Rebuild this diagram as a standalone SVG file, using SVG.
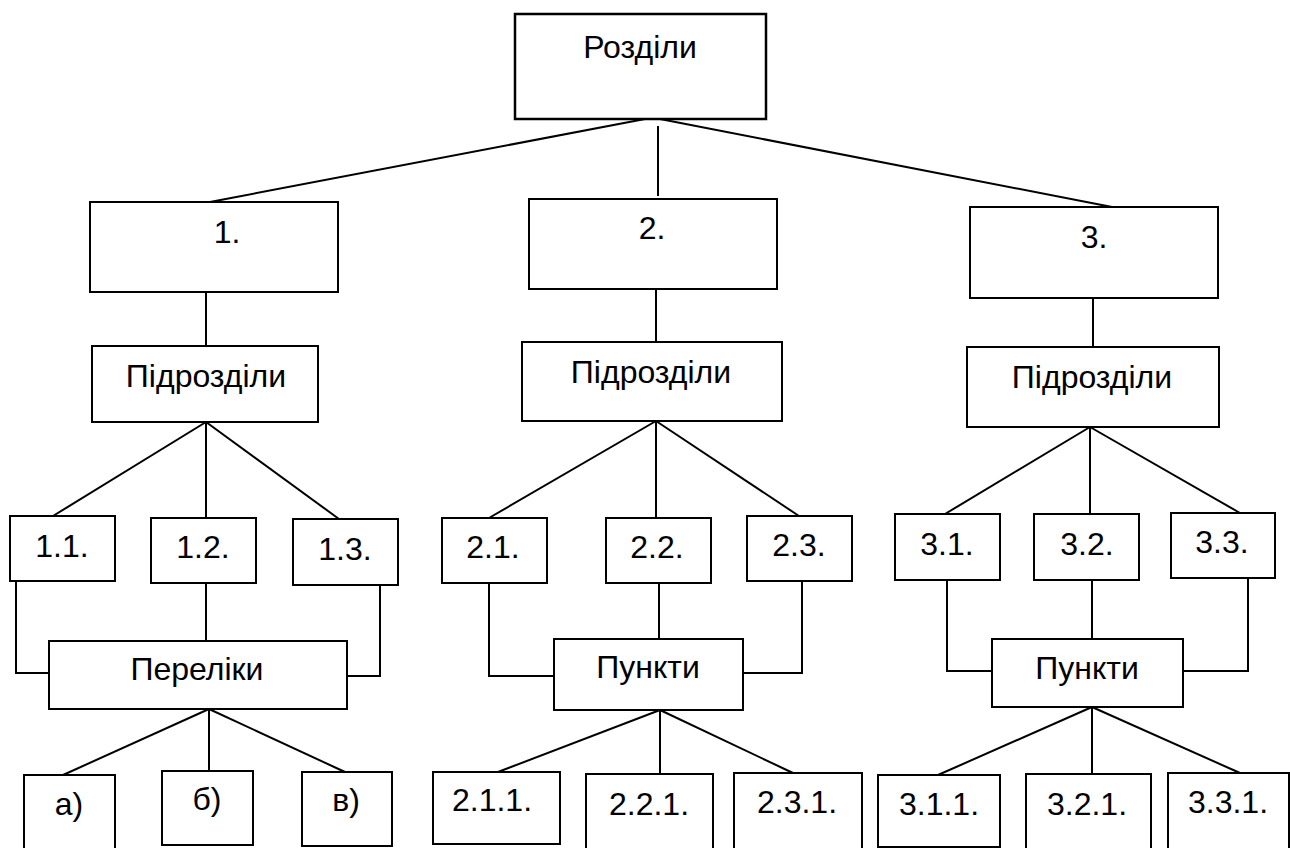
<svg xmlns="http://www.w3.org/2000/svg" width="1290" height="848" viewBox="0 0 1290 848">
<style>
.box{fill:#fff;stroke:#000;stroke-width:2}
.top{stroke-width:2.5}
.lbl{font-family:"Liberation Sans",Arial,sans-serif;font-size:32px;fill:#000;text-anchor:middle}
.conn line,.conn polyline{stroke:#000;stroke-width:2;fill:none}
</style>
<rect width="1290" height="848" fill="#fff"/>
<g class="conn" id="connectors">
<line x1="645" y1="119" x2="210" y2="202"/>
<line x1="658" y1="126" x2="658" y2="196"/>
<line x1="660" y1="119" x2="1112" y2="207"/>
<line x1="206" y1="292" x2="206" y2="346"/>
<line x1="656" y1="289" x2="656" y2="342"/>
<line x1="1093" y1="298" x2="1093" y2="347"/>
<line x1="206" y1="422" x2="53" y2="516"/>
<line x1="206" y1="422" x2="206" y2="518"/>
<line x1="206" y1="422" x2="339" y2="519"/>
<line x1="656" y1="421" x2="489" y2="518"/>
<line x1="656" y1="421" x2="656" y2="518"/>
<line x1="656" y1="421" x2="799" y2="516"/>
<line x1="1090" y1="427" x2="945" y2="514"/>
<line x1="1090" y1="427" x2="1090" y2="514"/>
<line x1="1090" y1="427" x2="1240" y2="513"/>
<polyline points="16,581 16,673 49,673"/>
<line x1="206" y1="583" x2="206" y2="641"/>
<polyline points="380,585 380,676 347,676"/>
<polyline points="489,583 489,676 554,676"/>
<line x1="659" y1="583" x2="659" y2="639"/>
<polyline points="802,581 802,673 743,673"/>
<polyline points="947,580 947,671 992,671"/>
<line x1="1092" y1="580" x2="1092" y2="642"/>
<polyline points="1248,578 1248,671 1183,671"/>
<line x1="209" y1="709" x2="63" y2="775"/>
<line x1="209" y1="709" x2="209" y2="771"/>
<line x1="209" y1="709" x2="345" y2="772"/>
<line x1="660" y1="710" x2="498" y2="772"/>
<line x1="660" y1="710" x2="660" y2="774"/>
<line x1="660" y1="710" x2="793" y2="773"/>
<line x1="1092" y1="707" x2="938" y2="775"/>
<line x1="1092" y1="707" x2="1092" y2="774"/>
<line x1="1092" y1="707" x2="1240" y2="773"/>
</g>
<g id="n-rozdily"><rect class="box top" x="515" y="14" width="251" height="105"/><text class="lbl" x="640" y="58">Розділи</text></g>
<g id="n-1"><rect class="box" x="90" y="202" width="248" height="90"/><text class="lbl" x="227" y="243">1.</text></g>
<g id="n-2"><rect class="box" x="529" y="199" width="248" height="90"/><text class="lbl" x="652" y="239">2.</text></g>
<g id="n-3"><rect class="box" x="970" y="207" width="248" height="91"/><text class="lbl" x="1094" y="248">3.</text></g>
<g id="n-pidr1"><rect class="box" x="92" y="346" width="226" height="76"/><text class="lbl" x="206" y="387">Підрозділи</text></g>
<g id="n-pidr2"><rect class="box" x="522" y="342" width="260" height="79"/><text class="lbl" x="651" y="383">Підрозділи</text></g>
<g id="n-pidr3"><rect class="box" x="967" y="347" width="252" height="80"/><text class="lbl" x="1092" y="388">Підрозділи</text></g>
<g id="n-1-1"><rect class="box" x="10" y="516" width="105" height="65"/><text class="lbl" x="62" y="557">1.1.</text></g>
<g id="n-1-2"><rect class="box" x="151" y="518" width="105" height="65"/><text class="lbl" x="203" y="558">1.2.</text></g>
<g id="n-1-3"><rect class="box" x="293" y="519" width="105" height="66"/><text class="lbl" x="345" y="560">1.3.</text></g>
<g id="n-2-1"><rect class="box" x="442" y="518" width="105" height="65"/><text class="lbl" x="493" y="558">2.1.</text></g>
<g id="n-2-2"><rect class="box" x="606" y="518" width="105" height="65"/><text class="lbl" x="657" y="558">2.2.</text></g>
<g id="n-2-3"><rect class="box" x="747" y="516" width="105" height="65"/><text class="lbl" x="799" y="556">2.3.</text></g>
<g id="n-3-1"><rect class="box" x="895" y="514" width="105" height="66"/><text class="lbl" x="947" y="555">3.1.</text></g>
<g id="n-3-2"><rect class="box" x="1034" y="514" width="105" height="66"/><text class="lbl" x="1087" y="555">3.2.</text></g>
<g id="n-3-3"><rect class="box" x="1171" y="513" width="104" height="65"/><text class="lbl" x="1222" y="553">3.3.</text></g>
<g id="n-pereliky"><rect class="box" x="49" y="641" width="298" height="68"/><text class="lbl" x="197" y="680">Переліки</text></g>
<g id="n-punkty2"><rect class="box" x="554" y="639" width="189" height="71"/><text class="lbl" x="648" y="678">Пункти</text></g>
<g id="n-punkty3"><rect class="box" x="992" y="639" width="191" height="68"/><text class="lbl" x="1087" y="679">Пункти</text></g>
<g id="n-a"><rect class="box" x="24" y="775" width="91" height="80"/><text class="lbl" x="69" y="815">а)</text></g>
<g id="n-b"><rect class="box" x="162" y="771" width="91" height="74"/><text class="lbl" x="207" y="810">б)</text></g>
<g id="n-v"><rect class="box" x="302" y="772" width="90" height="74"/><text class="lbl" x="346" y="811">в)</text></g>
<g id="n-2-1-1"><rect class="box" x="433" y="772" width="127" height="72"/><text class="lbl" x="492" y="811">2.1.1.</text></g>
<g id="n-2-2-1"><rect class="box" x="586" y="774" width="127" height="80"/><text class="lbl" x="649" y="815">2.2.1.</text></g>
<g id="n-2-3-1"><rect class="box" x="734" y="773" width="128" height="80"/><text class="lbl" x="797" y="813">2.3.1.</text></g>
<g id="n-3-1-1"><rect class="box" x="878" y="775" width="122" height="72"/><text class="lbl" x="939" y="815">3.1.1.</text></g>
<g id="n-3-2-1"><rect class="box" x="1026" y="774" width="125" height="80"/><text class="lbl" x="1087" y="815">3.2.1.</text></g>
<g id="n-3-3-1"><rect class="box" x="1168" y="773" width="121" height="80"/><text class="lbl" x="1228" y="813">3.3.1.</text></g>
</svg>
